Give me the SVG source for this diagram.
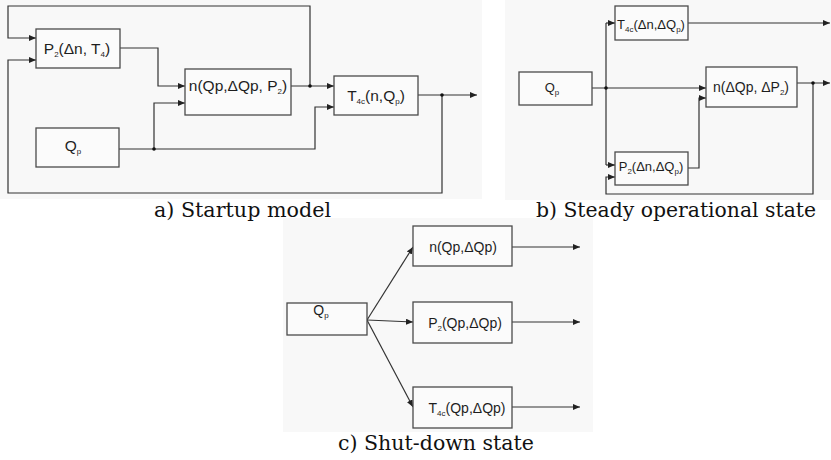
<svg xmlns="http://www.w3.org/2000/svg" width="831" height="460" viewBox="0 0 831 460">
<defs>
<marker id="arr" markerUnits="userSpaceOnUse" markerWidth="8" markerHeight="6" refX="7" refY="3" orient="auto">
<path d="M0,0 L7,3 L0,6 z" fill="#222"/>
</marker>
<style>
.bg{fill:#f8f8f8;stroke:none}
.box{fill:#fbfbfb;stroke:#4a4a4a;stroke-width:1.3}
.ln{fill:none;stroke:#333;stroke-width:1.2}
.ar{marker-end:url(#arr)}
.dot{fill:#111}
.lbl{font-family:"Liberation Sans",Arial,sans-serif;fill:#1e1e1e;text-anchor:middle}
.a{font-size:15.5px}
.b{font-size:13px}
.c{font-size:14px}
.sub{font-size:8px}
.cap{font-family:"DejaVu Serif","Liberation Serif",serif;font-size:20px;fill:#111}
</style>
</defs>
<rect class="bg" x="0" y="0" width="482" height="199"/>
<rect class="bg" x="505" y="0" width="326" height="200"/>
<rect class="bg" x="283" y="218" width="310" height="214"/>

<g id="connectors">
<!-- diagram a -->
<polyline class="ln ar" points="310,86 310,6 8,6 8,38 36,38"/>
<polyline class="ln ar" points="442,95 442,193 8,193 8,60 36,60"/>
<polyline class="ln ar" points="120,48 158,48 158,86 185,86"/>
<polyline class="ln ar" points="119,149 315,149 315,107 334,107"/>
<polyline class="ln ar" points="154,149 154,103 185,103"/>
<polyline class="ln ar" points="291,86 334,86"/>
<polyline class="ln ar" points="418,95 477,95"/>
<circle class="dot" cx="154" cy="149" r="1.8"/>
<circle class="dot" cx="310" cy="86" r="1.8"/>
<circle class="dot" cx="442" cy="95" r="1.8"/>
<!-- diagram b -->
<polyline class="ln ar" points="592,88 706,88"/>
<polyline class="ln" points="606,23 606,165"/>
<polyline class="ln ar" points="606,23 615,23"/>
<polyline class="ln ar" points="606,165 615,165"/>
<polyline class="ln ar" points="688,23 830,23"/>
<polyline class="ln ar" points="688,168 699,168 699,98 706,98"/>
<polyline class="ln ar" points="797,83 830,83"/>
<polyline class="ln ar" points="813,83 813,194 606,194 606,177 615,177"/>
<circle class="dot" cx="606" cy="88" r="1.8"/>
<circle class="dot" cx="813" cy="83" r="1.8"/>
<!-- diagram c -->
<polyline class="ln ar" points="367,320 413,247"/>
<polyline class="ln ar" points="367,320 413,322"/>
<polyline class="ln ar" points="367,320 413,407"/>
<polyline class="ln ar" points="512,247 580,247"/>
<polyline class="ln ar" points="512,322 580,322"/>
<polyline class="ln ar" points="512,407 580,407"/>
</g>

<!-- diagram a nodes -->
<g id="a-P2">
<rect class="box" x="36" y="29" width="84" height="39"/>
<text class="lbl a" x="77" y="54">P<tspan class="sub" dy="3">2</tspan><tspan dy="-3">(Δn, T</tspan><tspan class="sub" dy="3">4</tspan><tspan dy="-3">)</tspan></text>
</g>
<g id="a-Qp">
<rect class="box" x="36" y="128" width="83" height="39"/>
<text class="lbl a" x="73" y="151">Q<tspan class="sub" dy="3">p</tspan></text>
</g>
<g id="a-n">
<rect class="box" x="185" y="69" width="106" height="46"/>
<text class="lbl a" x="238" y="91">n(Qp,ΔQp, P<tspan class="sub" dy="3">2</tspan><tspan dy="-3">)</tspan></text>
</g>
<g id="a-T4c">
<rect class="box" x="334" y="76" width="84" height="39"/>
<text class="lbl a" x="376" y="101">T<tspan class="sub" dy="3">4c</tspan><tspan dy="-3">(n,Q</tspan><tspan class="sub" dy="3">p</tspan><tspan dy="-3">)</tspan></text>
</g>

<!-- diagram b nodes -->
<g id="b-T4c">
<rect class="box" x="615" y="6" width="73" height="34"/>
<text class="lbl b" x="651" y="29">T<tspan class="sub" dy="3">4c</tspan><tspan dy="-3">(Δn,ΔQ</tspan><tspan class="sub" dy="3">p</tspan><tspan dy="-3">)</tspan></text>
</g>
<g id="b-Qp">
<rect class="box" x="519" y="72" width="73" height="33"/>
<text class="lbl b" x="552" y="92">Q<tspan class="sub" dy="3">p</tspan></text>
</g>
<g id="b-n">
<rect class="box" x="706" y="67" width="91" height="40"/>
<text class="lbl c" x="751" y="92">n(ΔQp, ΔP<tspan class="sub" dy="3">2</tspan><tspan dy="-3">)</tspan></text>
</g>
<g id="b-P2">
<rect class="box" x="615" y="152" width="73" height="33"/>
<text class="lbl b" x="651" y="171">P<tspan class="sub" dy="3">2</tspan><tspan dy="-3">(Δn,ΔQ</tspan><tspan class="sub" dy="3">p</tspan><tspan dy="-3">)</tspan></text>
</g>

<!-- diagram c nodes -->
<g id="c-Qp">
<rect class="box" x="287" y="303" width="80" height="32"/>
<text class="lbl c" x="321" y="315">Q<tspan class="sub" dy="3">p</tspan></text>
</g>
<g id="c-n">
<rect class="box" x="413" y="226" width="99" height="40"/>
<text class="lbl c" x="463" y="252">n(Qp,ΔQp)</text>
</g>
<g id="c-P2">
<rect class="box" x="413" y="302" width="99" height="41"/>
<text class="lbl c" x="465" y="328">P<tspan class="sub" dy="3">2</tspan><tspan dy="-3">(Qp,ΔQp)</tspan></text>
</g>
<g id="c-T4c">
<rect class="box" x="413" y="387" width="99" height="41"/>
<text class="lbl c" x="467" y="413">T<tspan class="sub" dy="3">4c</tspan><tspan dy="-3">(Qp,ΔQp)</tspan></text>
</g>

<g id="captions">
<text class="cap" x="154" y="217" textLength="177" lengthAdjust="spacingAndGlyphs">a) Startup model</text>
<text class="cap" x="536" y="217" textLength="280" lengthAdjust="spacingAndGlyphs">b) Steady operational state</text>
<text class="cap" x="338" y="450" textLength="196" lengthAdjust="spacingAndGlyphs">c) Shut-down state</text>
</g>
</svg>
